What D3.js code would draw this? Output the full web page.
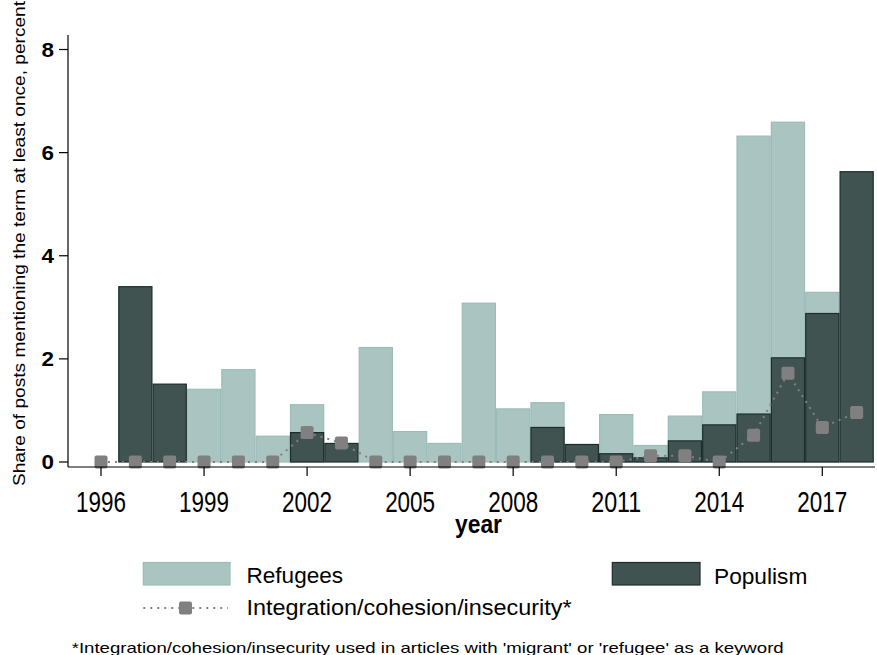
<!DOCTYPE html>
<html>
<head>
<meta charset="utf-8">
<script src="https://cdn.jsdelivr.net/npm/d3@7"></script>
<style>
  html, body { margin: 0; padding: 0; background: #fff; }
  svg { display: block; font-family: "Liberation Sans", Arial, sans-serif; }
</style>
</head>
<body>
<svg id="chart" width="877" height="655"></svg>
<script>
// Yearly shares of posts mentioning each term (percent)
const years = d3.range(1996, 2019);
const refugees = [0, 0, 0, 1.41, 1.79, 0.50, 1.11, 0, 2.22, 0.59, 0.36, 3.08, 1.03, 1.15, 0, 0.92, 0.32, 0.89, 1.36, 6.32, 6.59, 3.29, 0];
const populism = [0, 3.40, 1.51, 0, 0, 0, 0.57, 0.36, 0, 0, 0, 0, 0, 0.67, 0.34, 0.16, 0.08, 0.41, 0.72, 0.93, 2.02, 2.88, 5.63];
const integration = [0, 0, 0, 0, 0, 0, 0.57, 0.37, 0, 0, 0, 0, 0, 0, 0, 0, 0.12, 0.12, 0, 0.52, 1.72, 0.67, 0.96];
const xTicks = [1996, 1999, 2002, 2005, 2008, 2011, 2014, 2017];
const yTicks = [0, 2, 4, 6, 8];

const colLight = "#aac5c1", colLightStroke = "#9bbcb7";
const colDark = "#405351", colDarkStroke = "#1b2e2c";
const colLine = "#808080";

const svg = d3.select("#chart");

const x = d3.scaleLinear().domain([1996, 2017]).range([101, 822.3]);
const y = d3.scaleLinear().domain([0, 8]).range([462, 49.5]);
const yearW = x(1997) - x(1996);

const plotLeft = 68, plotRight = 875, plotTop = 35, plotBottom = 467;

// text helper: fixed size, squeezed to a given length
function label(g, s, o) {
  const t = g.append("text")
    .attr("x", o.x).attr("y", o.y)
    .attr("font-size", o.size)
    .attr("font-weight", o.bold ? "bold" : "normal")
    .attr("text-anchor", o.anchor || "start")
    .attr("fill", o.fill || "#000")
    .text(s);
  if (o.len) t.attr("textLength", o.len).attr("lengthAdjust", "spacingAndGlyphs");
  if (o.transform) t.attr("transform", o.transform);
  return t;
}

// bars: refugees underneath, populism on top
const barData = years.map((yr, i) => ({ yr, r: refugees[i], p: populism[i], n: integration[i] }));

svg.append("g").selectAll("rect")
  .data(barData.filter(d => d.r > 0))
  .join("rect")
  .attr("x", d => x(d.yr) - yearW / 2 + 0.6)
  .attr("width", yearW - 1.2)
  .attr("y", d => y(d.r))
  .attr("height", d => y(0) - y(d.r))
  .attr("fill", colLight)
  .attr("stroke", colLightStroke)
  .attr("stroke-width", 1.2);

svg.append("g").selectAll("rect")
  .data(barData.filter(d => d.p > 0))
  .join("rect")
  .attr("x", d => x(d.yr) - yearW / 2 + 0.6)
  .attr("width", yearW - 1.2)
  .attr("y", d => y(d.p))
  .attr("height", d => y(0) - y(d.p))
  .attr("fill", colDark)
  .attr("stroke", colDarkStroke)
  .attr("stroke-width", 1.2);

// integration/cohesion/insecurity line with square markers
const line = d3.line().x(d => x(d.yr)).y(d => y(d.n));
svg.append("path")
  .datum(barData)
  .attr("d", line)
  .attr("fill", "none")
  .attr("stroke", colLine)
  .attr("stroke-width", 2)
  .attr("stroke-dasharray", "2,5");

const mk = 13;
svg.append("g").selectAll("rect")
  .data(barData)
  .join("rect")
  .attr("x", d => x(d.yr) - mk / 2)
  .attr("y", d => y(d.n) - mk / 2)
  .attr("width", mk).attr("height", mk)
  .attr("rx", 2)
  .attr("fill", colLine);

// axes
const axes = svg.append("g").attr("stroke", "#000").attr("stroke-width", 1.2);
axes.append("line").attr("x1", plotLeft).attr("x2", plotLeft).attr("y1", plotTop).attr("y2", plotBottom);
axes.append("line").attr("x1", plotLeft).attr("x2", plotRight).attr("y1", plotBottom).attr("y2", plotBottom);

axes.selectAll(".yt").data(yTicks).join("line")
  .attr("x1", plotLeft - 9).attr("x2", plotLeft)
  .attr("y1", d => y(d)).attr("y2", d => y(d));
axes.selectAll(".xt").data(xTicks).join("line")
  .attr("x1", d => x(d)).attr("x2", d => x(d))
  .attr("y1", plotBottom).attr("y2", plotBottom + 9);

const tl = svg.append("g");
yTicks.forEach(v => label(tl, String(v), { x: 54, y: y(v) + 7, size: 19.5, bold: true, anchor: "end", len: 12.5 }));
xTicks.forEach(v => label(tl, String(v), { x: x(v), y: 511.5, size: 30, anchor: "middle", len: 50 }));

label(svg, "year", { x: 478.5, y: 533, size: 25, bold: true, anchor: "middle", len: 47 });
label(svg, "Share of posts mentioning the term at least once, percent",
  { x: 0, y: 0, size: 16, len: 485, transform: "translate(25,486) rotate(-90)" });

// legend
const lg = svg.append("g");
lg.append("rect").attr("x", 143.3).attr("y", 562.5).attr("width", 86.7).attr("height", 22.5)
  .attr("fill", colLight).attr("stroke", colLightStroke).attr("stroke-width", 1.2);
label(lg, "Refugees", { x: 246.5, y: 583.3, size: 22, len: 96.6 });

lg.append("rect").attr("x", 612.3).attr("y", 562.5).attr("width", 87.7).attr("height", 22.5)
  .attr("fill", colDark).attr("stroke", colDarkStroke).attr("stroke-width", 1.2);
label(lg, "Populism", { x: 714, y: 584, size: 22, len: 93.3 });

lg.append("line").attr("x1", 143.3).attr("x2", 228).attr("y1", 608).attr("y2", 608)
  .attr("stroke", colLine).attr("stroke-width", 2).attr("stroke-dasharray", "2,5");
lg.append("rect").attr("x", 185.5 - mk / 2).attr("y", 608 - mk / 2).attr("width", mk).attr("height", mk)
  .attr("rx", 2).attr("fill", colLine);
label(lg, "Integration/cohesion/insecurity*", { x: 246.5, y: 614.5, size: 22, len: 325 });

// note
label(svg, "*Integration/cohesion/insecurity used in articles with 'migrant' or 'refugee' as a keyword",
  { x: 71.7, y: 653.3, size: 15, len: 712 });
</script>
</body>
</html>
